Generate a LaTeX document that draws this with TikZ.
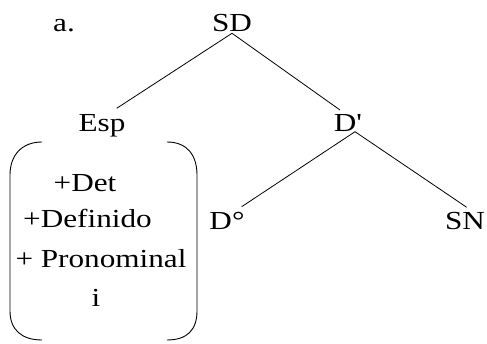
\documentclass[tikz,border=0pt]{standalone}
\usepackage{fontspec}
\setmainfont{Liberation Serif}
\usetikzlibrary{calc}
\newcommand{\wtxt}[1]{\scalebox{1.2}[1]{#1}}
\begin{document}
\begin{tikzpicture}[x=1pt,y=-1pt,
  lbl/.style={anchor=base,inner sep=0pt,font=\fontsize{26}{30}\selectfont},
  edge/.style={line width=0.8pt},
  brk/.style={line width=0.9pt}]
\useasboundingbox (0,0) rectangle (487,344);
\node[lbl] (a) at (64,31.5) {\wtxt{a.}};
\node[lbl] (SD) at (232,31.7) {\wtxt{SD}};
\node[lbl] (Esp) at (102,131.5) {\wtxt{Esp}};
\node[lbl] (Dp) at (348,131.5) {\wtxt{D\textquotesingle}};
\node[lbl] (D0) at (227,230) {\wtxt{D°}};
\node[lbl] (SN) at (465,230) {\wtxt{SN}};
\node[lbl] (f1) at (85,191.7) {\wtxt{+Det}};
\node[lbl] (f2) at (87.5,228) {\wtxt{+Definido}};
\node[lbl] (f3) at (101,268) {\wtxt{+ Pronominal}};
\node[lbl] (f4) at (96,306.5) {\wtxt{i}};
\draw[edge] ($(SD.base)+(0,1.6)$) -- ($(Esp.base)+(14.7,-23.2)$);
\draw[edge] ($(SD.base)+(0,1.6)$) -- ($(Dp.base)+(-8,-21.5)$);
\draw[edge] ($(Dp.base)+(7,0.2)$) -- ($(D0.base)+(14.7,-23.3)$);
\draw[edge] ($(Dp.base)+(7,0.2)$) -- ($(SN.base)+(1.7,-22.7)$);
\draw[brk] (42,142) .. controls (22,142) and (10,155) .. (10,175) -- (10,311) .. controls (10,330) and (22,340) .. (42,340);
\draw[brk] (167,142) .. controls (187,142) and (197,155) .. (197,175) -- (197,311) .. controls (197,330) and (187,340) .. (167,340);
\end{tikzpicture}
\end{document}
